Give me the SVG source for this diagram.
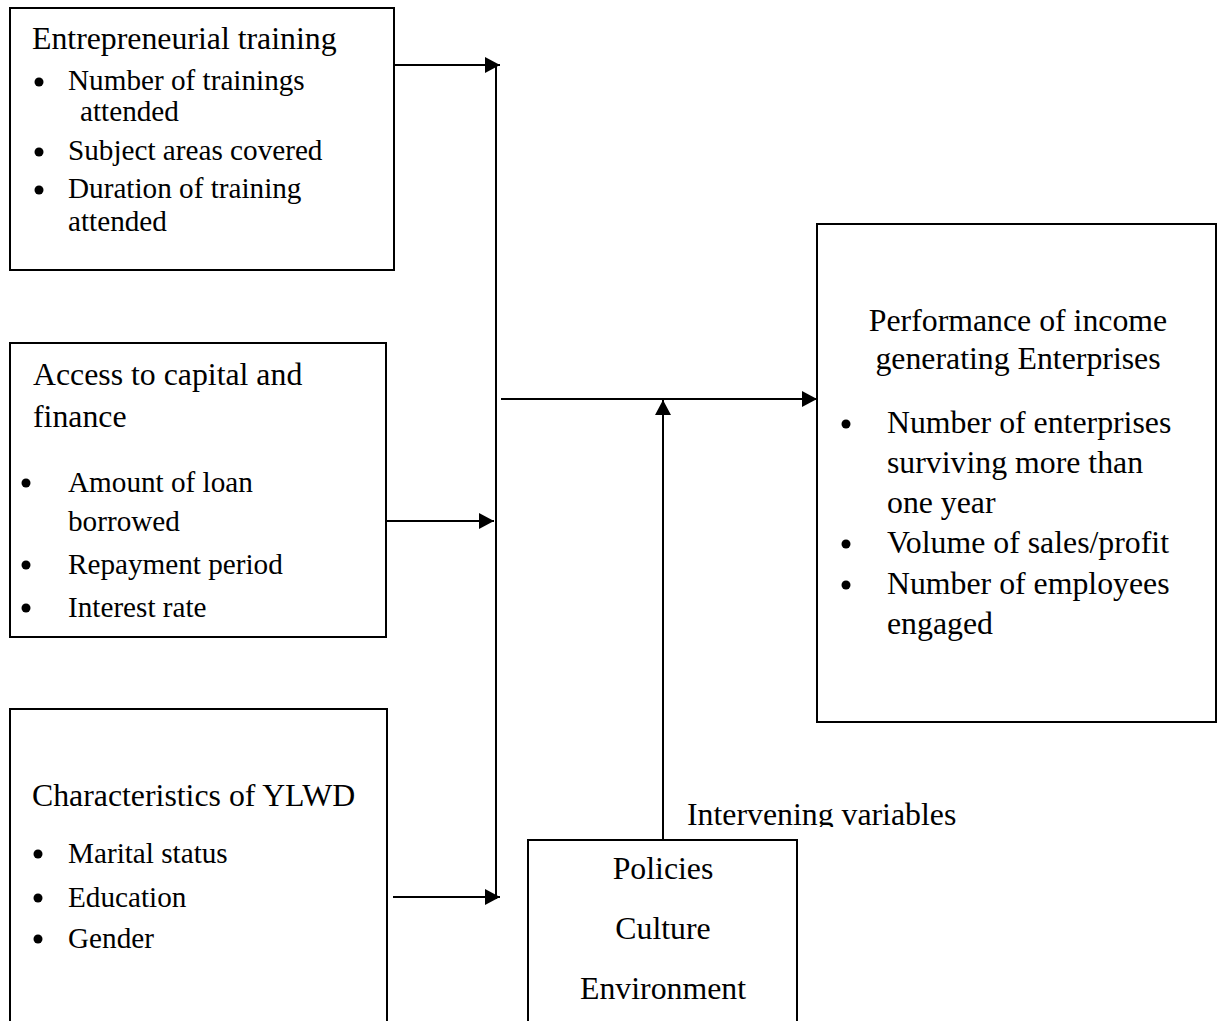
<svg xmlns="http://www.w3.org/2000/svg" width="1218" height="1021" viewBox="0 0 1218 1021">
<style>
.box{fill:#fff;stroke:#000;stroke-width:2}
.t{font-family:"Liberation Serif","Times New Roman",serif;font-size:31.8px;fill:#000}
.s{font-family:"Liberation Serif","Times New Roman",serif;font-size:29.2px;fill:#000}
.m{text-anchor:middle}
.ln{fill:none;stroke:#000;stroke-width:2}
</style>
<defs>
<marker id="ah" viewBox="0 0 15 16" refX="15" refY="8" markerWidth="15" markerHeight="16" markerUnits="userSpaceOnUse" orient="auto">
<path d="M0,0 L15,8 L0,16 Z" fill="#000"/>
</marker>
<clipPath id="clipIV"><rect x="680" y="790" width="300" height="37"/></clipPath>
</defs>
<rect width="1218" height="1021" fill="#fff"/>
<g id="connectors">
<line class="ln" x1="394" y1="65" x2="500" y2="65" marker-end="url(#ah)"/>
<line class="ln" x1="496" y1="64" x2="496" y2="899"/>
<line class="ln" x1="386" y1="521" x2="494" y2="521" marker-end="url(#ah)"/>
<line class="ln" x1="393" y1="897" x2="500" y2="897" marker-end="url(#ah)"/>
<line class="ln" x1="501" y1="399" x2="817" y2="399" marker-end="url(#ah)"/>
<line class="ln" x1="663" y1="840" x2="663" y2="400" marker-end="url(#ah)"/>
</g>
<g id="node-training">
<rect class="box" x="10" y="8" width="384" height="262"/>
<text class="t" x="32" y="49">Entrepreneurial training</text>
<circle cx="39" cy="82" r="4.5"/>
<text class="s" x="68" y="90">Number of trainings</text>
<text class="s" x="80" y="121">attended</text>
<circle cx="39" cy="152" r="4.5"/>
<text class="s" x="68" y="160">Subject areas covered</text>
<circle cx="39" cy="190" r="4.5"/>
<text class="s" x="68" y="198">Duration of training</text>
<text class="s" x="68" y="231">attended</text>
</g>
<g id="node-capital">
<rect class="box" x="10" y="343" width="376" height="294"/>
<text class="t" x="33" y="385">Access to capital and</text>
<text class="t" x="33" y="427">finance</text>
<circle cx="26" cy="483" r="4.5"/>
<text class="s" x="68" y="492">Amount of loan</text>
<text class="s" x="68" y="531">borrowed</text>
<circle cx="26" cy="565" r="4.5"/>
<text class="s" x="68" y="574">Repayment period</text>
<circle cx="26" cy="608" r="4.5"/>
<text class="s" x="68" y="617">Interest rate</text>
</g>
<g id="node-ylwd">
<rect class="box" x="10" y="709" width="377" height="330"/>
<text class="t" x="32" y="806">Characteristics of YLWD</text>
<circle cx="38" cy="854" r="4.5"/>
<text class="s" x="68" y="863">Marital status</text>
<circle cx="38" cy="898" r="4.5"/>
<text class="s" x="68" y="907">Education</text>
<circle cx="38" cy="939" r="4.5"/>
<text class="s" x="68" y="948">Gender</text>
</g>
<g id="node-intervening">
<text class="t" x="687" y="825" clip-path="url(#clipIV)">Intervening variables</text>
<rect class="box" x="528" y="840" width="269" height="200"/>
<text class="t m" x="663" y="879">Policies</text>
<text class="t m" x="663" y="939">Culture</text>
<text class="t m" x="663" y="999">Environment</text>
</g>
<g id="node-performance">
<rect class="box" x="817" y="224" width="399" height="498"/>
<text class="t m" x="1018" y="331">Performance of income</text>
<text class="t m" x="1018" y="369">generating Enterprises</text>
<circle cx="846" cy="424" r="4.5"/>
<text class="t" x="887" y="433">Number of enterprises</text>
<text class="t" x="887" y="473">surviving more than</text>
<text class="t" x="887" y="513">one year</text>
<circle cx="846" cy="544" r="4.5"/>
<text class="t" x="887" y="553">Volume of sales/profit</text>
<circle cx="846" cy="585" r="4.5"/>
<text class="t" x="887" y="594">Number of employees</text>
<text class="t" x="887" y="634">engaged</text>
</g>
</svg>
